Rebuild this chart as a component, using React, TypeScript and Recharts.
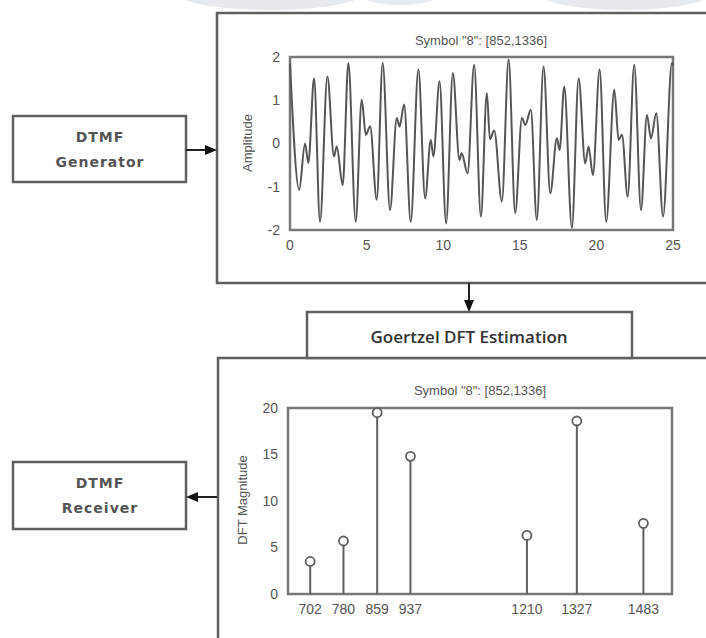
import React from "react";
import {
  LineChart,
  Line,
  XAxis,
  YAxis,
  ReferenceArea,
  ScatterChart,
  Scatter,
  ErrorBar,
} from "recharts";

// time-domain trace, extrema (ms, amplitude)
const waveT = [
  0, 0.6, 0.98, 1.2, 1.57, 1.96, 2.44, 2.87, 3.05, 3.44, 3.81, 4.29, 4.68, 4.95, 5.23, 5.66,
  6.05, 6.53, 6.97, 7.15, 7.45, 7.88, 8.38, 8.82, 9.19, 9.36, 9.76, 10.19, 10.63, 11.06, 11.2,
  11.59, 12.02, 12.46, 12.85, 13.05, 13.33, 13.83, 14.27, 14.7, 15.14, 15.36, 15.72, 16.11,
  16.55, 16.99, 17.42, 17.6, 17.9, 18.4, 18.84, 19.27, 19.49, 19.77, 20.21, 20.64, 21.17,
  21.45, 21.67, 22.04, 22.47, 22.91, 23.3, 23.56, 23.91, 24.35, 24.93, 25,
];
const waveA = [
  1.85, -1.07, 0.0, -0.45, 1.51, -1.81, 1.55, -0.3, -0.07, -0.96, 1.86, -1.81, 1.01, 0.2, 0.4,
  -1.3, 1.86, -1.54, 0.59, 0.39, 0.9, -1.81, 1.71, -1.27, 0.08, -0.3, 1.44, -1.85, 1.63, -0.38,
  -0.22, -0.69, 1.82, -1.69, 1.17, 0.1, 0.3, -1.34, 1.94, -1.61, 0.59, 0.43, 0.78, -1.77, 1.78,
  -1.15, 0.12, -0.15, 1.32, -1.95, 1.51, -0.46, -0.07, -0.73, 1.71, -1.81, 1.24, 0.08, 0.2,
  -1.23, 1.82, -1.54, 0.66, 0.12, 0.7, -1.69, 1.86, 1.8,
];
const timeTicks = [0, 5, 10, 15, 20, 25];
const ampTicks = [-2, -1, 0, 1, 2];

// Goertzel bins
const freqs = [702, 780, 859, 937, 1210, 1327, 1483];
const mags = [3.5, 5.7, 19.5, 14.8, 6.3, 18.6, 7.6];
const magTicks = [0, 5, 10, 15, 20];

const TITLE = 'Symbol "8": [852,1336]';
const FONT = "'Liberation Sans', Arial, sans-serif";
const INK = "#5f5f5f";
const tickStyle = { fontSize: 14, fill: "#555", fontFamily: FONT };

const waveRows = waveT.map((t, i) => ({ t, a: waveA[i] }));
const stemRows = freqs.map((f, i) => ({ f, m: mags[i], err: [mags[i], 0] }));

const Stem = (p: any) => (
  <circle cx={p.cx} cy={p.cy} r={4.5} fill="#fff" stroke={INK} strokeWidth={1.8} />
);

const Diagram = () => (
  <svg width={706} height={638} style={{ position: "absolute", left: 0, top: 0 }}>
    <ellipse cx={270} cy={-8} rx={95} ry={18} fill="#e6eaee" />
    <ellipse cx={400} cy={-6} rx={40} ry={11} fill="#e6eaee" />
    <ellipse cx={625} cy={-6} rx={85} ry={16} fill="#e6eaee" />
    <g fill="#fff" stroke={INK} strokeWidth={2.5}>
      <rect x={217} y={13} width={600} height={270} />
      <rect x={218} y={358} width={600} height={400} />
      <rect x={307} y={312} width={325} height={46} />
      <rect x={13} y={116} width={173} height={66} />
      <rect x={13} y={462} width={173} height={67} />
    </g>
    <g stroke="#222" strokeWidth={2} fill="#111">
      <line x1={186} y1={150} x2={208} y2={150} />
      <polygon points="205,145 217,150 205,155" strokeWidth={0} />
      <line x1={469} y1={283} x2={469} y2={302} />
      <polygon points="464,300 469,312 474,300" strokeWidth={0} />
      <line x1={217} y1={497} x2={195} y2={497} />
      <polygon points="198,492 186,497 198,502" strokeWidth={0} />
    </g>
    <g fontFamily="'DejaVu Sans', Verdana, sans-serif" fontSize={14} fontWeight={600} fill="#555" textAnchor="middle" letterSpacing={1}>
      <text x={100} y={142}>DTMF</text>
      <text x={100} y={167}>Generator</text>
      <text x={100} y={488}>DTMF</text>
      <text x={100} y={513}>Receiver</text>
    </g>
    <text x={469} y={343} textAnchor="middle" fontFamily="'Open Sans', sans-serif" fontSize={17} fontWeight={600} fill="#333">
      Goertzel DFT Estimation
    </text>
    <g fontFamily={FONT} fontSize={13} fill="#555" textAnchor="middle">
      <text x={481} y={45}>{TITLE}</text>
      <text x={480} y={395}>{TITLE}</text>
      <text transform="translate(252,143) rotate(-90)">Amplitude</text>
      <text transform="translate(247,500) rotate(-90)">DFT Magnitude</text>
    </g>
  </svg>
);

export default function App() {
  return (
    <div style={{ position: "absolute", left: 0, top: 0, width: 706, height: 638, background: "#fff", overflow: "hidden", fontFamily: FONT }}>
      <Diagram />
      <div style={{ position: "absolute", left: 230, top: 30 }}>
        <LineChart width={460} height={230} data={waveRows} margin={{ top: 27, right: 17, bottom: 5, left: 30 }}>
          <XAxis dataKey="t" type="number" domain={[0, 25]} ticks={timeTicks} tick={tickStyle} axisLine={false} tickLine={false} height={25} tickMargin={4} />
          <YAxis type="number" domain={[-2, 2]} ticks={ampTicks} tick={tickStyle} axisLine={false} tickLine={false} width={30} tickMargin={4} />
          <ReferenceArea x1={0} x2={25} y1={-2} y2={2} fill="none" stroke="#777" strokeWidth={2.5} ifOverflow="visible" />
          <Line type="monotone" dataKey="a" stroke="#555" strokeWidth={2} dot={false} isAnimationActive={false} />
        </LineChart>
      </div>
      <div style={{ position: "absolute", left: 230, top: 380 }}>
        <ScatterChart width={460} height={250} margin={{ top: 28, right: 18, bottom: 11, left: 28 }}>
          <XAxis dataKey="f" type="number" domain={[650, 1550]} ticks={freqs} tick={tickStyle} axisLine={false} tickLine={false} height={25} tickMargin={4} interval={0} />
          <YAxis dataKey="m" type="number" domain={[0, 20]} ticks={magTicks} tick={tickStyle} axisLine={false} tickLine={false} width={30} tickMargin={4} />
          <ReferenceArea x1={650} x2={1550} y1={0} y2={20} fill="none" stroke="#777" strokeWidth={2.5} ifOverflow="visible" />
          <Scatter data={stemRows} shape={Stem} isAnimationActive={false}>
            <ErrorBar dataKey="err" direction="y" width={0} stroke={INK} strokeWidth={2} />
          </Scatter>
        </ScatterChart>
      </div>
    </div>
  );
}
